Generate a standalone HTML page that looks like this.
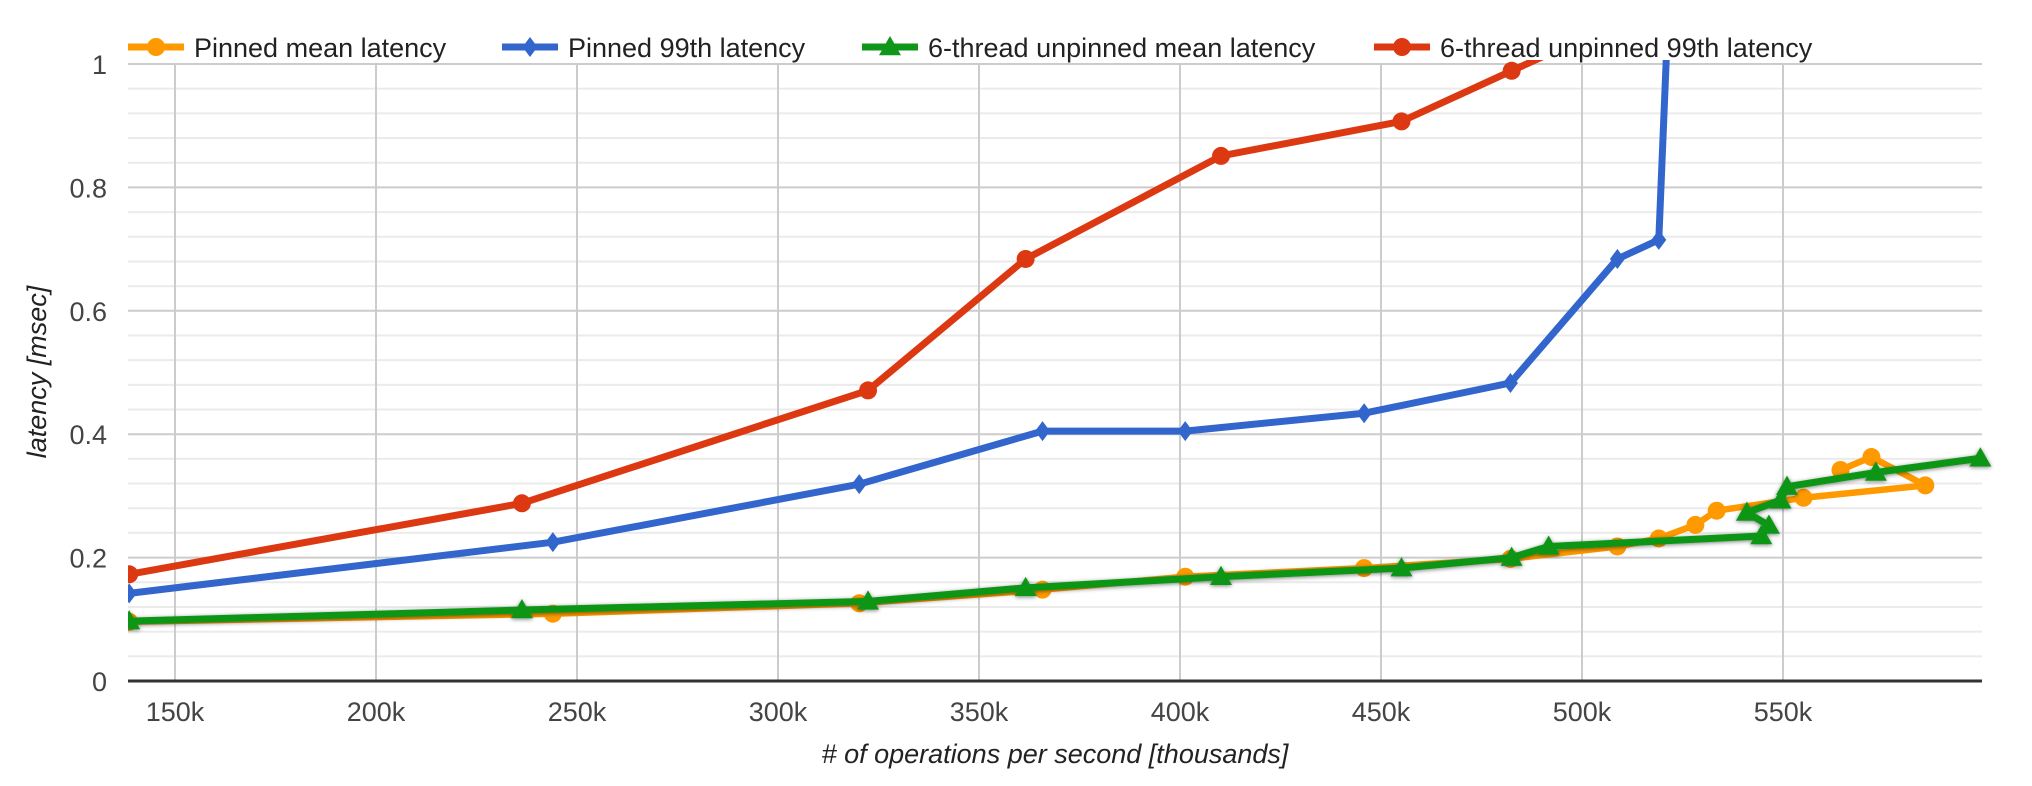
<!DOCTYPE html>
<html><head><meta charset="utf-8"><style>
html,body{margin:0;padding:0;background:#fff;}
svg{display:block;font-family:"Liberation Sans",Arial,sans-serif;}
</style></head><body>
<svg id="chart" width="2032" height="786" viewBox="0 0 2032 786" xmlns="http://www.w3.org/2000/svg">
<defs>
<filter id="shadow" x="-10%" y="-10%" width="120%" height="120%">
<feGaussianBlur in="SourceAlpha" stdDeviation="2"/>
<feOffset dx="0" dy="1" result="b"/>
<feComponentTransfer><feFuncA type="linear" slope="0.5"/></feComponentTransfer>
<feMerge><feMergeNode/><feMergeNode in="SourceGraphic"/></feMerge>
</filter>
<clipPath id="plotclip"><rect x="128" y="60" width="1890" height="630"/></clipPath>
</defs>
<g id="grid"></g>
<g id="series" clip-path="url(#plotclip)"></g>
<g id="labels"></g>
<g id="legend"></g>
<text x="0" y="0" transform="translate(46,372) rotate(-90)" text-anchor="middle" font-size="27" font-style="italic" fill="#222">latency [msec]</text>
<text x="1055" y="763" text-anchor="middle" font-size="27" font-style="italic" fill="#222"># of operations per second [thousands]</text>
</svg>
<script>
const xTicks = [150, 200, 250, 300, 350, 400, 450, 500, 550];
const xTickLabels = ["150k","200k","250k","300k","350k","400k","450k","500k","550k"];
const yTicks = [0, 0.2, 0.4, 0.6, 0.8, 1];
const yTickLabels = ["0","0.2","0.4","0.6","0.8","1"];
const seriesNames = ["Pinned mean latency","Pinned 99th latency","6-thread unpinned mean latency","6-thread unpinned 99th latency"];

const pinnedMeanX = [138.6,244.0,320.2,365.8,401.3,445.8,482.2,508.8,519.1,528.2,533.5,555.1,585.4,572.0,564.3];
const pinnedMeanY = [0.096,0.109,0.126,0.148,0.169,0.183,0.198,0.218,0.231,0.253,0.276,0.297,0.317,0.363,0.342];
const pinned99X = [138.6,244.0,320.2,365.8,401.3,445.8,482.2,508.8,519.1,523.0];
const pinned99Y = [0.142,0.225,0.319,0.405,0.405,0.434,0.483,0.684,0.715,1.33];
const unpinnedMeanX = [138.6,236.3,322.4,361.6,410.2,455.1,482.5,491.7,544.6,546.5,541.0,549.4,551.0,573.1,599.1];
const unpinnedMeanY = [0.097,0.115,0.129,0.151,0.169,0.183,0.200,0.218,0.235,0.252,0.273,0.293,0.315,0.338,0.361];
const unpinned99X = [138.6,236.3,322.4,361.6,410.2,455.1,482.5,520.0];
const unpinned99Y = [0.173,0.288,0.471,0.684,0.851,0.907,0.989,1.10];

const L=128, R=1982, T=64, B=681;
function xs(v){ return 175 + (v-150)*4.02; }
function ys(v){ return B - v*(B-T); }
const NS="http://www.w3.org/2000/svg";
function mk(tag, attrs, parent){ const e=document.createElementNS(NS,tag); for(const k in attrs) e.setAttribute(k,attrs[k]); parent.appendChild(e); return e; }

const grid=document.getElementById('grid');
for(let i=0;i<25;i++){
  const v=i*0.04; if(i%5===0) continue;
  const l=mk('line',{x1:L,x2:R,y1:ys(v),y2:ys(v),stroke:'#ebebeb','stroke-width':2},grid);
  
  
}
yTicks.forEach(v=>{ if(v===0) return;
  const l=mk('line',{x1:L,x2:R,y1:ys(v),y2:ys(v),stroke:'#cccccc','stroke-width':2},grid);
  
  
});
xTicks.forEach(v=>{
  const l=mk('line',{x1:xs(v),x2:xs(v),y1:T,y2:B,stroke:'#cccccc','stroke-width':2},grid);
  
  
});

const labels=document.getElementById('labels');
const base=mk('line',{x1:L,x2:R,y1:B,y2:B,stroke:'#333','stroke-width':3},labels);


yTicks.forEach((v,i)=>{
  const t=mk('text',{x:107,y:ys(v)+10,'text-anchor':'end','font-size':27,fill:'#444'},labels);
  t.textContent=yTickLabels[i];
  
  
});
xTicks.forEach((v,i)=>{
  const t=mk('text',{x:xs(v),y:721,'text-anchor':'middle','font-size':27,fill:'#444'},labels);
  t.textContent=xTickLabels[i];
  
  
});

const colors=['#ff9900','#3366cc','#109618','#dc3912'];
const sx=[pinnedMeanX,pinned99X,unpinnedMeanX,unpinned99X];
const sy=[pinnedMeanY,pinned99Y,unpinnedMeanY,unpinned99Y];
const shapes=['circle','diamond','triangle','circle'];
const sg=document.getElementById('series');
function marker(shape,cx,cy,color,parent,size){
  let e;
  if(shape==='circle') e=mk('circle',{cx:cx,cy:cy,r:size,fill:color},parent);
  else if(shape==='diamond') e=mk('polygon',{points:`${cx},${cy-size} ${cx+size*0.75},${cy} ${cx},${cy+size} ${cx-size*0.75},${cy}`,fill:color},parent);
  else e=mk('polygon',{points:`${cx},${cy-size} ${cx+size},${cy+size*0.75} ${cx-size},${cy+size*0.75}`,fill:color},parent);
  return e;
}
const sizes=[9,10,11,9];
for(let s=0;s<4;s++){
  const g=mk('g',{},sg);
  
  
  if(s===2) g.setAttribute('filter','url(#shadow)');
  const pts=sx[s].map((v,i)=>xs(v)+','+ys(sy[s][i])).join(' ');
  const pl=mk('polyline',{points:pts,fill:'none',stroke:colors[s],'stroke-width':s===0?6.5:7,'stroke-linejoin':'round','stroke-linecap':'round'},g);
  
  
  sx[s].forEach((v,i)=>{
    const m=marker(shapes[s],xs(v),ys(sy[s][i]),colors[s],g,sizes[s]);
    
    
  });
}

const lg=document.getElementById('legend');
const lx=[128,502,862,1374];
for(let s=0;s<4;s++){
  const g=mk('g',{},lg);
  
  
  mk('line',{x1:lx[s],x2:lx[s]+56,y1:47,y2:47,stroke:colors[s],'stroke-width':7},g);
  marker(shapes[s],lx[s]+28,47,colors[s],g,sizes[s]);
  const t=mk('text',{x:lx[s]+66,y:57,'font-size':27,fill:'#222'},g);
  t.textContent=seriesNames[s];
}
</script>
</body></html>
